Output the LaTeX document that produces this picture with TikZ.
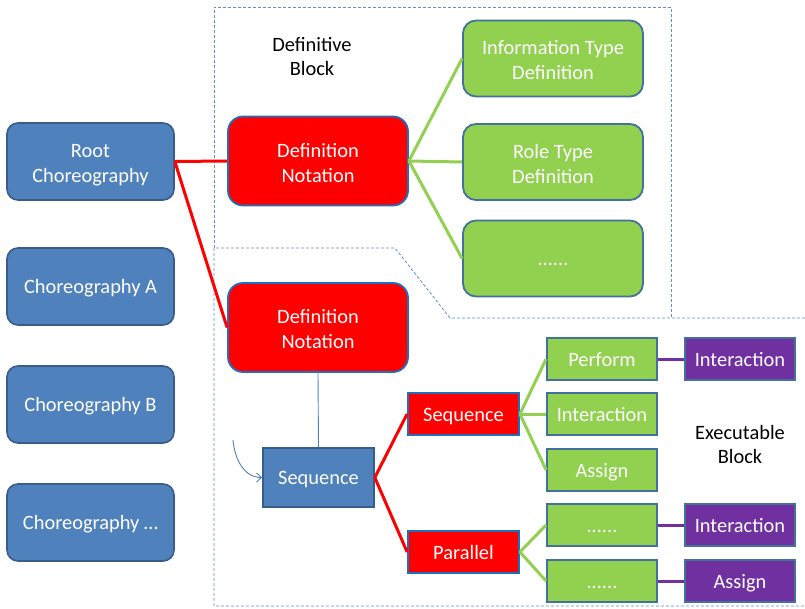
\documentclass[tikz,border=0pt]{standalone}
\usepackage{fontspec}
\setmainfont{Carlito}
\usetikzlibrary{arrows.meta}
\definecolor{chblue}{HTML}{4F81BD}
\definecolor{chedge}{HTML}{385D8A}
\definecolor{leaf}{HTML}{92D050}
\definecolor{leafedge}{HTML}{41719C}
\definecolor{act}{HTML}{7030A0}
\definecolor{redge}{HTML}{1F6FC0}
\definecolor{zone}{HTML}{5B8FCB}
% two centred lines whose lower baseline sits 21pt below the node centre
\newcommand{\stackpair}[2]{\raisebox{-21pt}[0pt][0pt]{\vbox{\baselineskip=25pt
  \halign{\hfil##\hfil\cr#1\cr#2\cr}}}}
\tikzset{
  base/.style={font=\fontsize{20.4}{25}\selectfont, text=white, align=center, inner sep=0pt},
  singletext/.style={execute at begin node={\rule{0pt}{18pt}},
                     execute at end node={\rule[-4pt]{0pt}{0pt}}},
  choreo/.style={base, rounded corners=11pt, fill=chblue, draw=chedge, line width=1.6pt,
                 minimum width=167pt, minimum height=77pt},
  notation/.style={base, rounded corners=15pt, fill=red, draw=redge, line width=1.8pt,
                   minimum width=180pt, minimum height=89pt},
  defleaf/.style={base, rounded corners=13pt, fill=leaf, draw=leafedge, line width=1.8pt,
                  minimum width=180pt, minimum height=76pt},
  seqbox/.style={base, singletext, fill=chblue, draw=chedge, line width=1.6pt,
                 minimum width=111pt, minimum height=59pt},
  ctrl/.style={base, singletext, fill=red, draw=redge, line width=1.8pt,
               minimum width=111pt, minimum height=42pt},
  exleaf/.style={base, singletext, fill=leaf, draw=leafedge, line width=1.8pt,
                 minimum width=110pt, minimum height=42pt},
  action/.style={base, singletext, fill=act, draw=leafedge, line width=1.8pt,
                 minimum width=110pt, minimum height=42pt},
  caption/.style={font=\fontsize{20.4}{24}\selectfont, text=black, align=center, inner sep=0pt},
  redlink/.style={red, line width=3pt},
  greenlink/.style={leaf, line width=3pt},
  purplelink/.style={act, line width=3pt},
  zoneline/.style={zone, line width=0.8pt, dash pattern=on 3pt off 2pt},
}
\begin{document}
\begin{tikzpicture}[x=1pt,y=-1pt]
  \useasboundingbox (0,0) rectangle (805,608);

  % block outlines
  \draw[zoneline] (214,248) -- (214,7) -- (671,7) -- (671,318);
  \draw[zoneline] (805,318) -- (450,318) -- (395,248) -- (214,248) -- (214,606) -- (805,606);

  % captions
  \node[caption] (defcap) at (312,57) {Definitive\\Block};
  \node[caption] (execap) at (740,444) {Executable\\Block};

  % choreographies
  \node[choreo] (root) at (90.5,161.5) {\stackpair{Root}{Choreography}};
  \node[choreo, singletext] (cha) at (90.5,286.5) {Choreography A};
  \node[choreo, singletext] (chb) at (90.5,404.5) {Choreography B};
  \node[choreo, singletext] (chc) at (90.5,522.5) {Choreography \dots};

  % definitive block
  \node[notation] (dn1) at (318,161) {\stackpair{Definition}{Notation}};
  \node[defleaf] (itd) at (553,58.5) {\stackpair{Information Type}{Definition}};
  \node[defleaf] (rtd) at (553,162) {\stackpair{Role Type}{Definition}};
  \node[defleaf, singletext] (more) at (553,258.5) {......};

  % executable block
  \node[notation] (dn2) at (318,327.5) {\stackpair{Definition}{Notation}};
  \node[seqbox] (seq) at (318.5,477.5) {Sequence};
  \node[ctrl] (seq2) at (463.5,414) {Sequence};
  \node[ctrl] (par) at (463.5,552) {Parallel};
  \node[exleaf] (perf) at (602,359) {Perform};
  \node[exleaf] (inter) at (602,414) {Interaction};
  \node[exleaf] (assign) at (602,470) {Assign};
  \node[exleaf] (p1) at (602,525) {......};
  \node[exleaf] (p2) at (602,581) {......};
  \node[action] (a1) at (740,359) {Interaction};
  \node[action] (a2) at (740,525) {Interaction};
  \node[action] (a3) at (740,581) {Assign};

  % links
  \draw[redlink] (root.east) -- (dn1.west);
  \draw[redlink] (root.east) -- (dn2.west);
  \draw[greenlink] (dn1.east) -- (itd.west);
  \draw[greenlink] (dn1.east) -- (rtd.west);
  \draw[greenlink] (dn1.east) -- (more.west);
  \draw[chblue, line width=0.9pt] (dn2.south) -- (seq.north);
  \coordinate (loopstart) at (233,440);
  \draw[chblue, line width=0.9pt, -{Straight Barb[length=5pt,width=9pt]}]
    (loopstart) to[out=-85, in=180] (seq.west);
  \draw[redlink] (seq.east) -- (seq2.west);
  \draw[redlink] (seq.east) -- (par.west);
  \draw[greenlink] (seq2.east) -- (perf.west);
  \draw[greenlink] (seq2.east) -- (inter.west);
  \draw[greenlink] (seq2.east) -- (assign.west);
  \draw[greenlink] (par.east) -- (p1.west);
  \draw[greenlink] (par.east) -- (p2.west);
  \draw[purplelink] (perf.east) -- (a1.west);
  \draw[purplelink] (p1.east) -- (a2.west);
  \draw[purplelink] (p2.east) -- (a3.west);
\end{tikzpicture}
\end{document}
